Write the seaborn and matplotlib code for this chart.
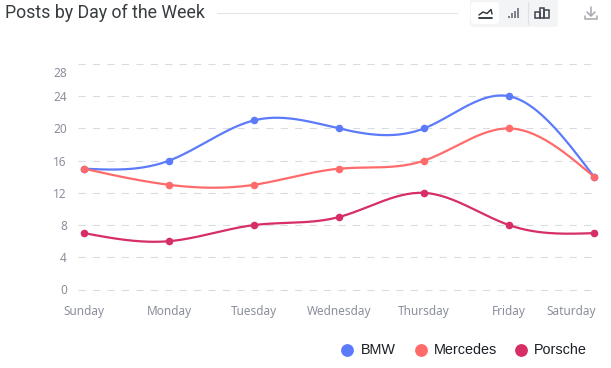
import matplotlib
matplotlib.use("Agg")
import matplotlib.pyplot as plt
from matplotlib.patches import FancyBboxPatch, Rectangle
from matplotlib.transforms import ScaledTranslation
import numpy as np
import pandas as pd
import seaborn as sns

days = ["Sunday", "Monday", "Tuesday", "Wednesday", "Thursday", "Friday", "Saturday"]
bmw = [15, 16, 21, 20, 20, 24, 14]
mercedes = [15, 13, 13, 15, 16, 20, 14]
porsche = [7, 6, 8, 9, 12, 8, 7]
y_ticks = [0, 4, 8, 12, 16, 20, 24, 28]
names = ["BMW", "Mercedes", "Porsche"]
colors = ["#5B7BFA", "#FF6B6B", "#D62E65"]

W, H = 611, 368


# natural cubic spline, the chart draws its lines smoothed
def smooth(y, n=30):
    y = np.array(y, dtype=float)
    m = len(y)
    A = np.zeros((m, m))
    b = np.zeros(m)
    A[0, 0] = A[-1, -1] = 1
    for i in range(1, m - 1):
        A[i, i - 1:i + 2] = [1, 4, 1]
        b[i] = 6 * (y[i - 1] - 2 * y[i] + y[i + 1])
    k = np.linalg.solve(A, b)
    xs = np.linspace(0, m - 1, (m - 1) * n + 1)
    i = np.minimum(xs.astype(int), m - 2)
    t = xs - i
    ys = (1 - t) * y[i] + t * y[i + 1] + ((1 - t) ** 3 - (1 - t)) * k[i] / 6 + (t ** 3 - t) * k[i + 1] / 6
    return xs, ys


sns.set_theme(style="white")
plt.rcParams["font.family"] = ["Noto Sans", "DejaVu Sans"]

fig = plt.figure(figsize=(W / 100, H / 100), dpi=100, facecolor="white")
ax = fig.add_axes([78 / W, 1 - 289.5 / H, (594 - 78) / W, (289.5 - 64) / H])

for name, vals, c in zip(names, [bmw, mercedes, porsche], colors):
    xs, ys = smooth(vals)
    sns.lineplot(x=xs, y=ys, ax=ax, color=c, lw=1.6, clip_on=False, zorder=3)
    pts = pd.DataFrame({"x": range(len(days)), "y": vals})
    sns.scatterplot(data=pts, x="x", y="y", ax=ax, color=c, s=30, linewidth=0, clip_on=False, zorder=4)

ax.set_xlim(-6 / 85, 6)
ax.set_ylim(0, 28)
ax.set_xlabel("")
ax.set_ylabel("")
sns.despine(ax=ax, left=True, bottom=True, top=True, right=True)
ax.yaxis.grid(True, color="#D8DBE1", lw=0.8, dashes=(6.5, 6.5), clip_on=False)
ax.set_axisbelow(True)

ax.set_yticks(y_ticks)
ax.set_xticks(range(len(days)))
ax.set_xticklabels(days)
ax.tick_params(axis="both", length=0, labelsize=8.5, labelcolor="#8A8F9C")
ax.tick_params(axis="x", pad=11)
ax.tick_params(axis="y", pad=8)

# apex style label nudges
for lab, d in zip(ax.get_xticklabels(), days):
    if d == "Saturday":
        lab.set_transform(lab.get_transform() + ScaledTranslation(-23 / 100, 0, fig.dpi_scale_trans))
for lab, v in zip(ax.get_yticklabels(), y_ticks):
    if v == 28:
        lab.set_transform(lab.get_transform() + ScaledTranslation(0, -8 / 100, fig.dpi_scale_trans))

# header + toolbar, drawn in pixel coordinates
over = fig.add_axes([0, 0, 1, 1], facecolor="none")
over.set_xlim(0, W)
over.set_ylim(H, 0)
over.axis("off")
over.text(5, 13, "Posts by Day of the Week", fontsize=12.8, family="Roboto", color="#373D3F", va="center")
over.plot([217, 457], [12.5, 12.5], color="#E3E5E8", lw=0.8)

over.add_patch(FancyBboxPatch((470, -6), 88, 33, boxstyle="round,pad=0,rounding_size=4", fc="#F3F4F6", ec="none"))
over.add_patch(FancyBboxPatch((471, 2), 28, 22, boxstyle="round,pad=0,rounding_size=4", fc="white", ec="none"))
over.plot([479, 483, 487, 491, 492], [15, 12, 13.5, 9.5, 14], color="#2A2F36", lw=1.0)
over.plot([479, 492], [17.5, 17.5], color="#2A2F36", lw=1.3)
for x, h in zip([508, 511, 514, 517], [2.5, 5, 7.5, 10]):
    over.add_patch(Rectangle((x, 18 - h), 1.6, h, fc="#7E838C", ec="none"))
over.plot([527.5, 527.5], [2, 24], color="#DFE1E5", lw=0.8)
for x, top in zip([535, 539.5, 544], [12, 8, 10]):
    over.add_patch(Rectangle((x, top), 4.5, 18 - top, fc="none", ec="#40454D", lw=1.1))
# download icon
over.plot([591, 591], [7, 15], color="#A4A8AE", lw=1.1)
over.plot([587, 591, 595], [12, 16, 12], color="#A4A8AE", lw=1.1)
over.plot([585, 585, 597, 597], [16, 19, 19, 16], color="#A4A8AE", lw=1.1)

# legend
for x, tx, name, c in zip([347, 421, 521], [360.5, 433.5, 534], names, colors):
    over.scatter([x], [350], s=85, color=c, linewidth=0)
    over.text(tx, 350.5, name, fontsize=10.4, family="Liberation Sans", color="#1B1F26", va="center")

fig.savefig("out.png", dpi=100)
